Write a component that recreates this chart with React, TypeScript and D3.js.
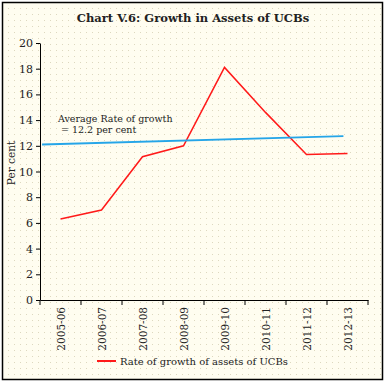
import React, { useEffect, useRef } from "react";
import * as d3 from "d3";

const years = ["2005-06", "2006-07", "2007-08", "2008-09", "2009-10", "2010-11", "2011-12", "2012-13"];
const growth = [6.3, 7.0, 11.15, 12.0, 18.1, 14.6, 11.33, 11.4];
// average line: position in category-index units, value
const avgIdx = [-0.45, 6.9];
const avgVal = [12.1, 12.75];
const yTicks = [0, 2, 4, 6, 8, 10, 12, 14, 16, 18, 20];

export default function App() {
  const svgRef = useRef<SVGSVGElement>(null);

  useEffect(() => {
    const W = 387, H = 384;
    const svg = d3.select(svgRef.current);
    svg.selectAll("*").remove();
    const font = "'DejaVu Serif', serif";

    const defs = svg.append("defs");
    const pat = defs.append("pattern").attr("id", "dots")
      .attr("width", 6).attr("height", 6).attr("patternUnits", "userSpaceOnUse");
    pat.append("rect").attr("width", 6).attr("height", 6).attr("fill", "#fffdf0");
    pat.append("rect").attr("x", 2).attr("y", 2).attr("width", 1).attr("height", 1).attr("fill", "#ddd8bf");

    svg.append("rect").attr("width", W).attr("height", H).attr("fill", "#fff");
    svg.append("rect").attr("x", 2.5).attr("y", 2.5).attr("width", 380).attr("height", 377)
      .attr("fill", "url(#dots)").attr("stroke", "#000").attr("stroke-width", 1.5);

    const x = d3.scaleBand().domain(years).range([40, 368]);
    const idx = d3.scaleLinear().domain([0, 1]).range([x(years[0])! + x.bandwidth() / 2, x(years[1])! + x.bandwidth() / 2]);
    const y = d3.scaleLinear().domain([0, 20]).range([300, 43]);

    svg.append("text").attr("x", 193).attr("y", 22).attr("text-anchor", "middle")
      .attr("font-family", font).attr("font-weight", "bold").attr("font-size", 11.5)
      .attr("fill", "#222").text("Chart V.6: Growth in Assets of UCBs");

    const yAxis = svg.append("g").attr("transform", "translate(40,0)")
      .call(d3.axisLeft(y).tickValues(yTicks).tickSize(4).tickSizeOuter(0));
    yAxis.selectAll("text").attr("font-family", font).attr("font-size", 11).attr("fill", "#222");

    const xAxis = svg.append("g").attr("transform", "translate(0,300)")
      .call(d3.axisBottom(x).tickSize(0).tickSizeOuter(0).tickFormat(() => ""));
    xAxis.selectAll(".tick").remove();
    xAxis.selectAll(".edge").data(d3.range(years.length + 1)).join("line")
      .attr("x1", (i) => 40 + i * x.step()).attr("x2", (i) => 40 + i * x.step())
      .attr("y1", 0).attr("y2", 5).attr("stroke", "#000");
    xAxis.selectAll(".lbl").data(years).join("text")
      .attr("transform", (d) => `translate(${x(d)! + x.bandwidth() / 2 + 4},7) rotate(-90)`)
      .attr("text-anchor", "end").attr("font-family", font).attr("font-size", 10.5).attr("fill", "#222")
      .text((d) => d);
    svg.selectAll(".domain").attr("stroke", "#000");

    svg.append("text").attr("transform", "translate(15,163) rotate(-90)").attr("text-anchor", "middle")
      .attr("font-family", font).attr("font-size", 10.5).attr("fill", "#222").text("Per cent");

    const line = d3.line<number>().x((_, i) => x(years[i])! + x.bandwidth() / 2).y((d) => y(d));
    svg.append("path").datum(growth).attr("d", line).attr("fill", "none")
      .attr("stroke", "#ff1a1a").attr("stroke-width", 1.5);

    const avgLine = d3.line<number>().x((_, i) => idx(avgIdx[i])).y((d) => y(d));
    svg.append("path").datum(avgVal).attr("d", avgLine).attr("fill", "none")
      .attr("stroke", "#25a5e8").attr("stroke-width", 1.8);

    svg.append("text").attr("x", 58).attr("y", 122).attr("font-family", font).attr("font-size", 9.5)
      .attr("fill", "#222").text("Average  Rate of growth");
    svg.append("text").attr("x", 61).attr("y", 133).attr("font-family", font).attr("font-size", 9.5)
      .attr("fill", "#222").text("= 12.2 per cent");

    svg.append("line").attr("x1", 97).attr("x2", 116).attr("y1", 361).attr("y2", 361)
      .attr("stroke", "#ff1a1a").attr("stroke-width", 2);
    svg.append("text").attr("x", 120).attr("y", 365).attr("font-family", font).attr("font-size", 10)
      .attr("fill", "#222").text("Rate of growth of assets of UCBs");
  }, []);

  return (
    <div style={{ position: "absolute", left: 0, top: 0 }}>
      <svg ref={svgRef} width={387} height={384} style={{ display: "block" }}></svg>
    </div>
  );
}
